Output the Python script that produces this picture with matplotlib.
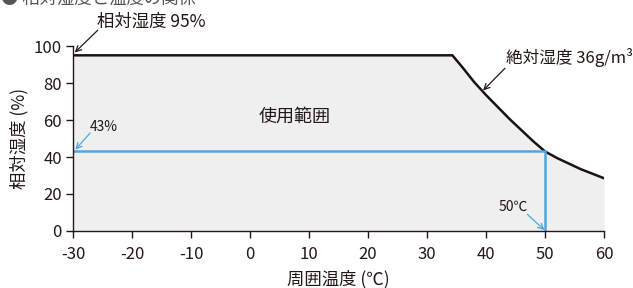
import matplotlib.pyplot as plt

plt.rcParams['font.family'] = ['Noto Sans CJK JP', 'DejaVu Sans']
plt.rcParams['axes.unicode_minus'] = False

# boundary of usable range (temperature C, relative humidity %)
temp = [-30, 34.3, 36, 38, 40, 42, 44, 46, 48, 50, 52, 54, 56, 58, 60]
rh = [95, 95, 88.5, 80.5, 73.5, 67, 60.5, 54.5, 48.5, 43, 39.5, 36.5, 33.5, 31, 28.5]
x_ticks = [-30, -20, -10, 0, 10, 20, 30, 40, 50, 60]
y_ticks = [0, 20, 40, 60, 80, 100]
op_temp = 50
op_rh = 43

TXT = '#231815'
BLUE = '#4aa8e0'

fig = plt.figure(figsize=(6.33, 2.88), dpi=100)
ax = fig.add_axes([0.1153, 0.198, 0.839, 0.642])

ax.fill_between(temp, rh, 0, color='#efefef', lw=0)
ax.plot(temp, rh, color='#1a1311', lw=1.8, solid_joinstyle='miter')
ax.plot([-30, op_temp, op_temp], [op_rh, op_rh, 0], color=BLUE, lw=1.8)

ax.set_xlim(-30, 60)
ax.set_ylim(0, 100)
ax.set_xticks(x_ticks)
ax.set_yticks(y_ticks)
for s in ['top', 'right']:
    ax.spines[s].set_visible(False)
for s in ['left', 'bottom']:
    ax.spines[s].set_color(TXT)
    ax.spines[s].set_linewidth(1.0)
ax.tick_params(colors=TXT, labelsize=12, length=5, width=1.0)
ax.tick_params(axis='x', pad=6)
ax.tick_params(axis='y', pad=3)

ax.set_xlabel('周囲温度 (℃)', fontsize=12.5, color=TXT, labelpad=5)
ax.set_ylabel('相対湿度 (%)', fontsize=12.5, color=TXT, labelpad=4)

ax.text(7.6, 62, '使用範囲', fontsize=13, color=TXT, ha='center', va='center')

arr_k = dict(arrowstyle='->', color=TXT, lw=0.9, shrinkA=0, shrinkB=0)
arr_b = dict(arrowstyle='->', color=BLUE, lw=0.9, shrinkA=0, shrinkB=0)
ax.annotate('', xy=(-29.7, 96.5), xytext=(-25.8, 108.6), arrowprops=arr_k, annotation_clip=False)
ax.text(-26, 113, '相対湿度 95%', fontsize=12.5, color=TXT, ha='left', va='center', clip_on=False)
ax.annotate('', xy=(39.5, 76), xytext=(43.2, 88), arrowprops=arr_k)
ax.text(43.4, 94, '絶対湿度 36g/m³', fontsize=12, color=TXT, ha='left', va='center', clip_on=False)
ax.annotate('', xy=(-29.6, 44), xytext=(-27.1, 53), arrowprops=arr_b)
ax.text(-27.2, 56, '43%', fontsize=10, color=TXT, ha='left', va='center')
ax.annotate('', xy=(49.9, 0.5), xytext=(47, 9), arrowprops=arr_b)
ax.text(44.6, 13, '50℃', fontsize=10, color=TXT, ha='center', va='center')

fig.text(0.002, 1.005, '● 相対湿度と温度の関係', fontsize=12.5, color='#555555', ha='left', va='center')

fig.savefig('out.png', dpi=100)
